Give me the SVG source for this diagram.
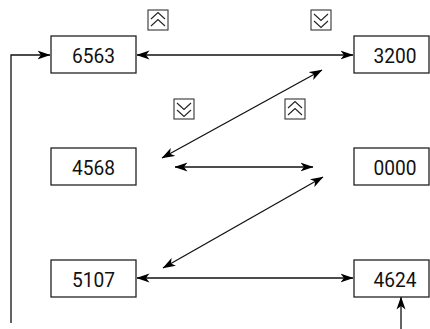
<svg xmlns="http://www.w3.org/2000/svg" width="430" height="329" viewBox="0 0 430 329">
<defs>
<marker id="ah" markerUnits="userSpaceOnUse" markerWidth="13" markerHeight="10" viewBox="0 0 13 10" refX="12.5" refY="5" orient="auto-start-reverse">
<path d="M0,0.5 L13,5 L0,9.5 L3.5,5 Z" fill="#000"/>
</marker>
<style>
.box{fill:#fff;stroke:#222;stroke-width:1.3}
.lbl{font-family:Roboto,"Liberation Sans",sans-serif;font-size:21px;fill:#111;text-anchor:middle}
.ln{fill:none;stroke:#111;stroke-width:1.3}
.key{fill:#fff;stroke:#333;stroke-width:1.1}
.chev{fill:none;stroke:#222;stroke-width:1.1}
</style>
</defs>
<g id="connectors">
<path class="ln" d="M137,55 L353,55" marker-start="url(#ah)" marker-end="url(#ah)"/>
<path class="ln" d="M322,70 L162,158" marker-start="url(#ah)" marker-end="url(#ah)"/>
<path class="ln" d="M175,167 L313,167" marker-start="url(#ah)" marker-end="url(#ah)"/>
<path class="ln" d="M323,177 L163,268" marker-start="url(#ah)" marker-end="url(#ah)"/>
<path class="ln" d="M137,278 L353,278" marker-start="url(#ah)" marker-end="url(#ah)"/>
<path class="ln" d="M401,329 L401,297" marker-end="url(#ah)"/>
<path class="ln" d="M11,323 L11,55 L50,55" marker-end="url(#ah)"/>
</g>
<g id="n6563"><rect class="box" x="51" y="36" width="85" height="37"/><text class="lbl" x="93.5" y="62.5" textLength="43" lengthAdjust="spacingAndGlyphs">6563</text></g>
<g id="n3200"><rect class="box" x="354" y="36" width="75" height="37"/><text class="lbl" x="395" y="62.5" textLength="43" lengthAdjust="spacingAndGlyphs">3200</text></g>
<g id="n4568"><rect class="box" x="51" y="148" width="85" height="37"/><text class="lbl" x="93.5" y="174.5" textLength="43" lengthAdjust="spacingAndGlyphs">4568</text></g>
<g id="n0000"><rect class="box" x="354" y="148" width="75" height="37"/><text class="lbl" x="395" y="174.5" textLength="43" lengthAdjust="spacingAndGlyphs">0000</text></g>
<g id="n5107"><rect class="box" x="51" y="260" width="85" height="37"/><text class="lbl" x="93.5" y="286.5" textLength="43" lengthAdjust="spacingAndGlyphs">5107</text></g>
<g id="n4624"><rect class="box" x="354" y="260" width="75" height="37"/><text class="lbl" x="395" y="286.5" textLength="43" lengthAdjust="spacingAndGlyphs">4624</text></g>
<g id="keyUp1"><rect class="key" x="148" y="10" width="20" height="20"/><path class="chev" d="M151,19 L158,12.5 L165,19 M151,26 L158,19.5 L165,26"/></g>
<g id="keyDown1"><rect class="key" x="311" y="10" width="20" height="20"/><path class="chev" d="M314,14 L321,20.5 L328,14 M314,21 L321,27.5 L328,21"/></g>
<g id="keyDown2"><rect class="key" x="174" y="99" width="20" height="20"/><path class="chev" d="M177,103 L184,109.5 L191,103 M177,110 L184,116.5 L191,110"/></g>
<g id="keyUp2"><rect class="key" x="285" y="99" width="20" height="20"/><path class="chev" d="M288,108 L295,101.5 L302,108 M288,115 L295,108.5 L302,115"/></g>
</svg>
